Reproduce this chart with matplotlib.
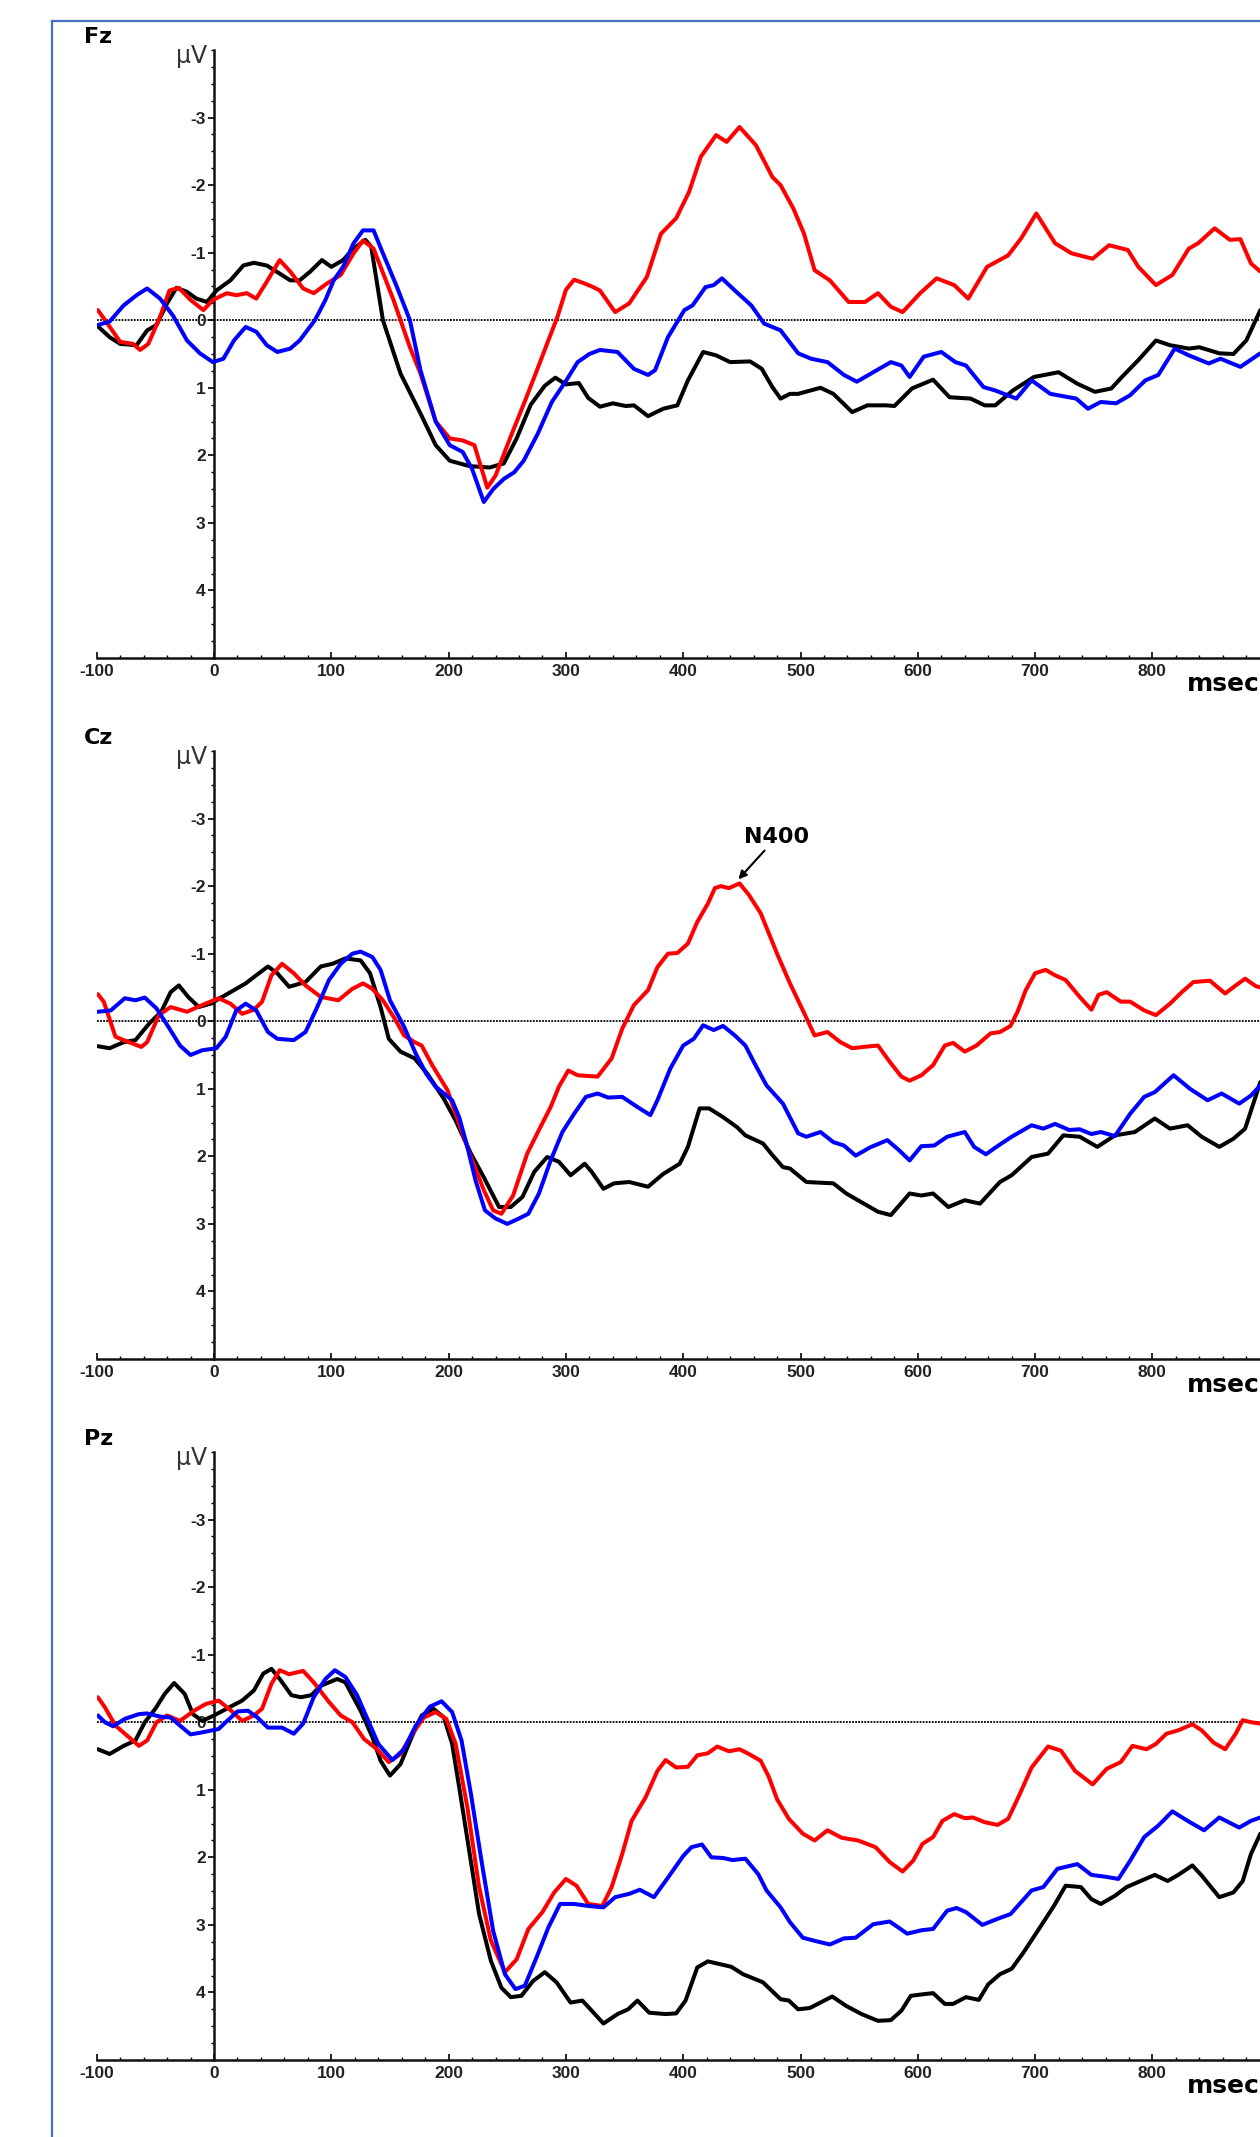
"""ERP grand averages at Fz, Cz and Pz (three conditions), redrawn from a figure.

Writes out.png (1260 x 2137 px). Negative is plotted up, as is usual for ERPs.
"""
import matplotlib
matplotlib.use("Agg")
import matplotlib.pyplot as plt
from matplotlib.lines import Line2D
from matplotlib.ticker import FixedLocator, MultipleLocator

W, H, DPI = 1260, 2137, 100

COND_COLORS = {"black": "#000000", "red": "#ff0000", "blue": "#0000ff"}
BORDER_COLOR = "#4472c4"

XTICKS = [-100, 0, 100, 200, 300, 400, 500, 600, 700, 800, 900]
XTICK_LABELS = ["-100", "0", "100", "200", "300", "400", "500", "600", "700", "800", "900"]
YTICKS = [-3, -2, -1, 0, 1, 2, 3, 4]
YTICK_LABELS = ["-3", "-2", "-1", "0", "1", "2", "3", "4"]

# --- Fz (ms / microvolt) ---
FZ_BLACK_MS = [-99, -89, -80, -66, -57, -49, -40, -32, -23, -15, -6, 2, 14, 25, 34, 45, 56, 65, 73, 82,
               92, 100, 110, 119, 129, 134, 144, 159, 176, 189, 201, 218, 235, 247, 258, 270, 282, 291,
               300, 311, 319, 329, 340, 351, 358, 370, 383, 395, 404, 417, 428, 440, 457, 467, 476, 483,
               491, 498, 517, 528, 544, 557, 573, 580, 595, 613, 627, 645, 657, 666, 681, 699, 720, 736,
               751, 765, 774, 788, 803, 815, 831, 840, 857, 869, 880, 892]
FZ_BLACK_UV = [0.09, 0.25, 0.35, 0.37, 0.15, 0.07, -0.25, -0.48, -0.42, -0.32, -0.27, -0.44, -0.59, -0.81,
               -0.85, -0.81, -0.69, -0.59, -0.59, -0.72, -0.89, -0.79, -0.89, -1.06, -1.19, -1.09, 0.0,
               0.79, 1.38, 1.85, 2.08, 2.16, 2.18, 2.12, 1.75, 1.25, 0.97, 0.85, 0.95, 0.93, 1.15, 1.28,
               1.23, 1.27, 1.26, 1.42, 1.31, 1.26, 0.89, 0.47, 0.52, 0.62, 0.61, 0.72, 0.99, 1.16, 1.09,
               1.09, 1.0, 1.09, 1.36, 1.26, 1.26, 1.27, 1.01, 0.88, 1.14, 1.16, 1.26, 1.26, 1.04, 0.84,
               0.77, 0.94, 1.06, 1.01, 0.84, 0.59, 0.30, 0.37, 0.42, 0.40, 0.49, 0.50, 0.30, -0.15]
FZ_RED_MS = [-99, -92, -80, -69, -63, -56, -46, -38, -30, -20, -9, -1, 11, 19, 28, 36, 45, 56, 65, 76, 85,
             96, 108, 119, 127, 136, 153, 167, 176, 189, 201, 212, 222, 233, 240, 253, 265, 276, 285, 293,
             300, 307, 315, 322, 329, 342, 354, 369, 381, 394, 405, 415, 428, 437, 448, 462, 476, 483, 494,
             503, 512, 525, 541, 555, 566, 577, 587, 602, 616, 631, 643, 659, 677, 688, 701, 717, 731, 749,
             763, 779, 788, 803, 817, 831, 839, 853, 866, 875, 884, 892]
FZ_RED_UV = [-0.15, 0.02, 0.32, 0.35, 0.44, 0.35, -0.05, -0.44, -0.48, -0.30, -0.15, -0.30, -0.40, -0.37,
             -0.40, -0.32, -0.57, -0.89, -0.72, -0.47, -0.40, -0.54, -0.67, -0.99, -1.18, -1.06, -0.30,
             0.40, 0.79, 1.50, 1.75, 1.78, 1.85, 2.48, 2.30, 1.72, 1.20, 0.71, 0.30, -0.06, -0.45, -0.60,
             -0.55, -0.50, -0.44, -0.12, -0.25, -0.64, -1.28, -1.51, -1.90, -2.42, -2.74, -2.64, -2.86,
             -2.59, -2.12, -2.0, -1.65, -1.28, -0.74, -0.59, -0.27, -0.27, -0.40, -0.20, -0.12, -0.40,
             -0.62, -0.52, -0.32, -0.79, -0.96, -1.21, -1.58, -1.14, -0.99, -0.91, -1.11, -1.04, -0.79,
             -0.52, -0.67, -1.06, -1.14, -1.36, -1.19, -1.20, -0.84, -0.72]
FZ_BLUE_MS = [-99, -89, -77, -66, -57, -46, -35, -23, -12, -1, 8, 17, 27, 36, 45, 54, 65, 73, 86, 95, 102,
              110, 119, 127, 136, 144, 156, 167, 176, 189, 201, 212, 220, 230, 238, 247, 256, 264, 276, 288,
              300, 310, 320, 329, 344, 358, 370, 376, 387, 401, 408, 419, 426, 433, 444, 458, 469, 483, 498,
              509, 523, 537, 548, 562, 577, 586, 593, 605, 620, 632, 641, 656, 666, 684, 697, 713, 735, 745,
              756, 769, 781, 794, 805, 819, 831, 848, 858, 875, 892]
FZ_BLUE_UV = [0.07, 0.02, -0.22, -0.37, -0.47, -0.32, -0.07, 0.30, 0.49, 0.62, 0.57, 0.30, 0.10, 0.17, 0.37,
              0.47, 0.42, 0.30, 0.0, -0.30, -0.59, -0.79, -1.14, -1.33, -1.33, -0.99, -0.49, 0.0, 0.74,
              1.50, 1.85, 1.95, 2.20, 2.69, 2.50, 2.35, 2.25, 2.08, 1.68, 1.21, 0.90, 0.62, 0.50, 0.44,
              0.47, 0.72, 0.81, 0.74, 0.25, -0.15, -0.22, -0.49, -0.52, -0.62, -0.44, -0.22, 0.05, 0.15,
              0.49, 0.57, 0.62, 0.81, 0.91, 0.77, 0.62, 0.67, 0.84, 0.54, 0.47, 0.62, 0.67, 0.99, 1.04,
              1.16, 0.89, 1.09, 1.16, 1.31, 1.21, 1.23, 1.11, 0.89, 0.81, 0.42, 0.52, 0.64, 0.57, 0.69, 0.49]

# --- Cz ---
CZ_BLACK_MS = [-99, -89, -77, -67, -55, -45, -37, -30, -22, -13, -3, 10, 27, 36, 46, 54, 64, 78, 91, 101,
               112, 125, 133, 142, 149, 159, 171, 182, 196, 206, 219, 230, 243, 253, 263, 273, 284, 294,
               304, 316, 322, 332, 341, 354, 370, 383, 397, 404, 414, 422, 434, 446, 453, 468, 475, 485,
               491, 505, 528, 539, 552, 566, 577, 593, 603, 613, 626, 640, 653, 670, 680, 697, 711, 724,
               738, 753, 768, 785, 802, 815, 830, 842, 857, 869, 879, 886, 892]
CZ_BLACK_UV = [0.37, 0.40, 0.31, 0.28, 0.03, -0.14, -0.43, -0.53, -0.36, -0.21, -0.26, -0.39, -0.56, -0.68,
               -0.81, -0.71, -0.51, -0.58, -0.81, -0.85, -0.93, -0.90, -0.71, -0.21, 0.26, 0.45, 0.55,
               0.78, 1.15, 1.47, 1.96, 2.31, 2.75, 2.75, 2.60, 2.23, 2.01, 2.08, 2.28, 2.11, 2.23, 2.48,
               2.40, 2.38, 2.45, 2.26, 2.11, 1.86, 1.29, 1.29, 1.42, 1.57, 1.69, 1.81, 1.96, 2.16, 2.18,
               2.38, 2.40, 2.55, 2.68, 2.82, 2.87, 2.55, 2.58, 2.55, 2.75, 2.65, 2.70, 2.38, 2.28, 2.01,
               1.96, 1.69, 1.71, 1.86, 1.69, 1.64, 1.44, 1.59, 1.54, 1.71, 1.86, 1.74, 1.59, 1.22, 0.90]
CZ_RED_MS = [-99, -94, -84, -77, -71, -62, -57, -47, -37, -23, -10, 4, 14, 24, 34, 41, 49, 58, 68, 78, 91,
             106, 118, 127, 135, 144, 154, 162, 171, 177, 186, 199, 209, 219, 230, 238, 245, 255, 267, 277,
             287, 294, 302, 310, 327, 339, 348, 358, 370, 378, 387, 395, 404, 412, 421, 427, 432, 439, 448,
             456, 466, 480, 491, 502, 512, 523, 534, 544, 554, 566, 576, 586, 593, 603, 613, 623, 630, 640,
             650, 662, 670, 679, 685, 692, 700, 709, 717, 726, 738, 748, 754, 761, 773, 781, 793, 803, 815,
             825, 835, 849, 862, 871, 879, 888, 892]
CZ_RED_UV = [-0.40, -0.29, 0.23, 0.28, 0.32, 0.38, 0.31, -0.09, -0.21, -0.14, -0.24, -0.34, -0.26, -0.11,
             -0.17, -0.29, -0.68, -0.85, -0.71, -0.53, -0.36, -0.31, -0.48, -0.56, -0.48, -0.31, -0.04,
             0.21, 0.31, 0.36, 0.65, 1.02, 1.52, 2.01, 2.50, 2.80, 2.85, 2.58, 1.96, 1.61, 1.27, 0.97,
             0.73, 0.80, 0.82, 0.55, 0.11, -0.24, -0.46, -0.80, -1.0, -1.01, -1.15, -1.47, -1.74, -1.97,
             -2.0, -1.97, -2.04, -1.87, -1.60, -1.0, -0.56, -0.16, 0.21, 0.16, 0.31, 0.40, 0.38, 0.36,
             0.60, 0.82, 0.88, 0.80, 0.65, 0.36, 0.32, 0.45, 0.36, 0.18, 0.16, 0.07, -0.14, -0.46, -0.71,
             -0.76, -0.68, -0.61, -0.36, -0.17, -0.39, -0.43, -0.29, -0.29, -0.16, -0.09, -0.26, -0.43,
             -0.58, -0.60, -0.41, -0.53, -0.63, -0.52, -0.50]
CZ_BLUE_MS = [-99, -88, -76, -67, -59, -49, -39, -29, -20, -10, 2, 10, 19, 27, 36, 46, 54, 68, 78, 88, 98,
              108, 118, 125, 135, 142, 150, 162, 172, 181, 189, 203, 209, 216, 223, 231, 240, 250, 260, 268,
              277, 287, 297, 307, 317, 327, 336, 348, 361, 372, 378, 389, 400, 409, 417, 426, 434, 444, 453,
              461, 471, 485, 498, 505, 517, 528, 537, 547, 559, 574, 584, 593, 603, 614, 625, 640, 648, 658,
              667, 680, 697, 707, 717, 729, 738, 748, 756, 768, 781, 793, 802, 818, 832, 847, 859, 874, 884,
              892]
CZ_BLUE_UV = [-0.14, -0.16, -0.34, -0.31, -0.35, -0.19, 0.08, 0.36, 0.50, 0.43, 0.40, 0.23, -0.16, -0.26,
              -0.16, 0.16, 0.26, 0.28, 0.16, -0.21, -0.61, -0.85, -1.0, -1.03, -0.95, -0.76, -0.31, 0.08,
              0.48, 0.78, 0.97, 1.17, 1.42, 1.86, 2.36, 2.80, 2.92, 3.0, 2.92, 2.85, 2.55, 2.06, 1.64, 1.37,
              1.12, 1.07, 1.13, 1.12, 1.27, 1.39, 1.17, 0.70, 0.36, 0.26, 0.06, 0.13, 0.07, 0.21, 0.36,
              0.63, 0.95, 1.22, 1.66, 1.71, 1.64, 1.79, 1.84, 1.99, 1.87, 1.76, 1.91, 2.06, 1.85, 1.84,
              1.71, 1.64, 1.86, 1.97, 1.86, 1.71, 1.54, 1.59, 1.52, 1.61, 1.60, 1.67, 1.64, 1.70, 1.37,
              1.12, 1.05, 0.80, 1.0, 1.17, 1.07, 1.22, 1.10, 0.95]

# --- Pz ---
PZ_BLACK_MS = [-99, -89, -77, -67, -59, -50, -42, -34, -25, -18, -10, 0, 14, 24, 34, 42, 49, 56, 66, 74, 83,
               91, 105, 112, 125, 135, 142, 150, 159, 169, 177, 187, 196, 203, 209, 218, 226, 236, 245,
               253, 262, 272, 282, 292, 304, 314, 322, 332, 344, 353, 361, 371, 385, 394, 402, 412, 421,
               441, 451, 468, 483, 490, 498, 508, 527, 539, 552, 566, 577, 586, 594, 603, 613, 623, 630,
               641, 652, 660, 670, 680, 690, 704, 716, 726, 739, 748, 756, 768, 778, 790, 802, 813, 822,
               834, 842, 857, 869, 877, 884, 892]
PZ_BLACK_UV = [0.40, 0.47, 0.35, 0.27, 0.0, -0.20, -0.42, -0.58, -0.42, -0.12, -0.02, -0.10, -0.23, -0.32,
               -0.47, -0.72, -0.79, -0.64, -0.40, -0.37, -0.40, -0.54, -0.64, -0.59, -0.17, 0.22, 0.57,
               0.79, 0.62, 0.20, -0.10, -0.20, -0.07, 0.32, 0.96, 1.95, 2.84, 3.53, 3.93, 4.07, 4.05, 3.83,
               3.70, 3.85, 4.15, 4.12, 4.27, 4.46, 4.32, 4.25, 4.12, 4.30, 4.32, 4.31, 4.12, 3.63, 3.54,
               3.62, 3.73, 3.85, 4.10, 4.12, 4.25, 4.23, 4.06, 4.20, 4.32, 4.42, 4.41, 4.27, 4.05, 4.03,
               4.01, 4.17, 4.17, 4.07, 4.11, 3.88, 3.73, 3.65, 3.41, 3.04, 2.72, 2.42, 2.44, 2.62, 2.69,
               2.57, 2.44, 2.35, 2.26, 2.35, 2.26, 2.12, 2.27, 2.59, 2.52, 2.35, 1.95, 1.65]
PZ_RED_MS = [-99, -93, -84, -74, -64, -57, -49, -40, -29, -17, -7, 4, 14, 24, 34, 41, 49, 56, 64, 76, 85, 98,
             108, 118, 128, 139, 149, 159, 169, 179, 189, 198, 206, 216, 226, 236, 248, 258, 268, 280, 290,
             300, 309, 319, 331, 339, 348, 356, 368, 378, 385, 394, 404, 412, 421, 429, 439, 448, 456, 466,
             473, 480, 490, 502, 512, 523, 535, 549, 564, 576, 587, 596, 604, 613, 621, 631, 640, 647, 657,
             668, 677, 687, 697, 711, 722, 734, 749, 761, 773, 783, 795, 803, 812, 822, 834, 842, 852, 862,
             871, 877, 884, 892]
PZ_RED_UV = [-0.37, -0.22, 0.05, 0.20, 0.35, 0.27, 0.0, -0.10, -0.02, -0.17, -0.27, -0.32, -0.18, -0.02,
             -0.10, -0.20, -0.57, -0.77, -0.71, -0.76, -0.59, -0.30, -0.10, 0.0, 0.25, 0.40, 0.59, 0.47,
             0.17, -0.07, -0.15, -0.05, 0.32, 1.26, 2.44, 3.23, 3.70, 3.51, 3.06, 2.81, 2.52, 2.32, 2.42,
             2.69, 2.72, 2.44, 1.95, 1.46, 1.11, 0.72, 0.56, 0.67, 0.66, 0.49, 0.46, 0.36, 0.43, 0.40,
             0.47, 0.57, 0.81, 1.14, 1.43, 1.65, 1.75, 1.60, 1.71, 1.75, 1.85, 2.07, 2.21, 2.05, 1.80,
             1.70, 1.46, 1.36, 1.42, 1.41, 1.48, 1.52, 1.43, 1.06, 0.67, 0.36, 0.42, 0.72, 0.92, 0.69,
             0.59, 0.35, 0.40, 0.32, 0.17, 0.12, 0.03, 0.12, 0.30, 0.40, 0.17, -0.03, 0.0, 0.02]
PZ_BLUE_MS = [-99, -93, -86, -76, -64, -57, -45, -37, -29, -20, -10, 4, 10, 20, 29, 37, 46, 58, 68, 76, 85,
              95, 103, 112, 122, 132, 140, 152, 162, 172, 184, 194, 203, 211, 219, 228, 238, 248, 257, 265,
              275, 285, 295, 307, 319, 332, 342, 354, 363, 375, 387, 400, 407, 416, 424, 434, 442, 453,
              464, 471, 483, 491, 502, 513, 525, 537, 547, 562, 576, 591, 603, 613, 625, 633, 641, 655,
              668, 679, 697, 707, 719, 736, 748, 761, 771, 781, 793, 805, 817, 830, 844, 857, 874, 884, 892]
PZ_BLUE_UV = [-0.10, 0.0, 0.06, -0.05, -0.12, -0.13, -0.08, -0.07, 0.05, 0.18, 0.15, 0.10, 0.0, -0.16, -0.17,
              -0.07, 0.08, 0.08, 0.17, 0.02, -0.37, -0.64, -0.77, -0.67, -0.40, 0.0, 0.32, 0.56, 0.40, 0.05,
              -0.23, -0.31, -0.15, 0.27, 1.06, 2.05, 3.09, 3.73, 3.95, 3.90, 3.48, 3.04, 2.69, 2.69, 2.72,
              2.74, 2.59, 2.54, 2.48, 2.59, 2.30, 1.98, 1.85, 1.81, 2.0, 2.01, 2.04, 2.02, 2.25, 2.49, 2.74,
              2.96, 3.19, 3.24, 3.29, 3.20, 3.19, 2.99, 2.95, 3.13, 3.08, 3.06, 2.79, 2.75, 2.81, 3.0, 2.91,
              2.84, 2.49, 2.44, 2.17, 2.10, 2.26, 2.29, 2.32, 2.05, 1.70, 1.53, 1.32, 1.46, 1.60, 1.41,
              1.56, 1.46, 1.41]

# N400 marker on the Cz red trace: arrow tip (ms, uV) and label position
N400_TIP = (447, -2.10)
N400_TEXT = (480, -2.73)

PANELS = [
    ("Fz", {"black": (FZ_BLACK_MS, FZ_BLACK_UV), "red": (FZ_RED_MS, FZ_RED_UV), "blue": (FZ_BLUE_MS, FZ_BLUE_UV)}),
    ("Cz", {"black": (CZ_BLACK_MS, CZ_BLACK_UV), "red": (CZ_RED_MS, CZ_RED_UV), "blue": (CZ_BLUE_MS, CZ_BLUE_UV)}),
    ("Pz", {"black": (PZ_BLACK_MS, PZ_BLACK_UV), "red": (PZ_RED_MS, PZ_RED_UV), "blue": (PZ_BLUE_MS, PZ_BLUE_UV)}),
]

plt.rcParams["font.family"] = ["Liberation Sans", "DejaVu Sans"]
plt.rcParams["axes.unicode_minus"] = False
WIDE_BOLD = dict(family="DejaVu Sans", fontweight="bold")

# layout in pixels of the 1260 x 2137 canvas
AX_LEFT = 96.7          # x pixel of -100 ms
FIRST_TOP, PANEL_H, PANEL_STEP = 50, 608, 701
X_MAX = 891.7           # ms at the right edge of the canvas (the plot runs off the page)


def fx(px):
    return px / W


def fy(py):
    return 1 - py / H


def draw_panel(fig, idx, name, series):
    top = FIRST_TOP + idx * PANEL_STEP
    ax = fig.add_axes([fx(AX_LEFT), fy(top + PANEL_H), 1 - fx(AX_LEFT), PANEL_H / H])
    ax.patch.set_alpha(0)
    ax.set_xlim(-100, X_MAX)
    ax.set_ylim(5, -4)

    ax.axhline(0, color="black", linewidth=1.3, linestyle=(0, (1.0, 0.7)), zorder=1)
    for cond in ("black", "red", "blue"):
        ms, uv = series[cond]
        ax.plot(ms, uv, color=COND_COLORS[cond], linewidth=2.9,
                solid_joinstyle="round", solid_capstyle="round", zorder=3)

    ax.spines[["top", "right"]].set_visible(False)
    ax.spines["left"].set_position(("data", 0))
    for sp in ("left", "bottom"):
        ax.spines[sp].set_linewidth(1.8)
        ax.spines[sp].set_color("#111")

    ax.xaxis.set_major_locator(FixedLocator(XTICKS))
    ax.set_xticklabels(XTICK_LABELS)
    ax.xaxis.set_minor_locator(MultipleLocator(20))
    ax.yaxis.set_major_locator(FixedLocator(YTICKS))
    ax.set_yticklabels(YTICK_LABELS)
    ax.yaxis.set_minor_locator(MultipleLocator(0.25))
    ax.tick_params(axis="x", which="major", direction="in", length=4, width=1.2, pad=4)
    ax.tick_params(axis="x", which="minor", direction="in", length=2.5, width=1.0)
    ax.tick_params(axis="y", which="major", direction="out", length=4, width=1.2, pad=2)
    ax.tick_params(axis="y", which="minor", direction="out", length=2.5, width=1.0)
    for lab in ax.get_xticklabels() + ax.get_yticklabels():
        lab.set_fontsize(12.5)
        lab.set_fontweight("bold")
        lab.set_color("#222")

    off = idx * PANEL_STEP
    fig.text(fx(84), fy(37 + off), name, fontsize=16, ha="left", va="center", **WIDE_BOLD)
    fig.text(fx(207), fy(56 + off), "\u00b5V", fontsize=17, family="DejaVu Sans", color="#333",
             ha="right", va="center")
    fig.text(fx(1187), fy(684 + off), "msec", fontsize=18, ha="left", va="center", **WIDE_BOLD)
    return ax


def main():
    fig = plt.figure(figsize=(W / DPI, H / DPI), dpi=DPI)

    # blue frame, cut by the page on the right and bottom
    fig.add_artist(Line2D([fx(52), fx(52)], [0, fy(21)], color=BORDER_COLOR, linewidth=1.6))
    fig.add_artist(Line2D([fx(52), 1], [fy(21), fy(21)], color=BORDER_COLOR, linewidth=1.6))

    axes = [draw_panel(fig, i, name, series) for i, (name, series) in enumerate(PANELS)]

    axes[1].annotate("N400", xy=N400_TIP, xytext=N400_TEXT, ha="center", va="center",
                     fontsize=16, zorder=5, **WIDE_BOLD,
                     arrowprops=dict(arrowstyle="-|>", color="black", linewidth=1.5,
                                     mutation_scale=12, shrinkA=1, shrinkB=0))

    fig.savefig("out.png", dpi=DPI)
    plt.close(fig)


if __name__ == "__main__":
    main()
